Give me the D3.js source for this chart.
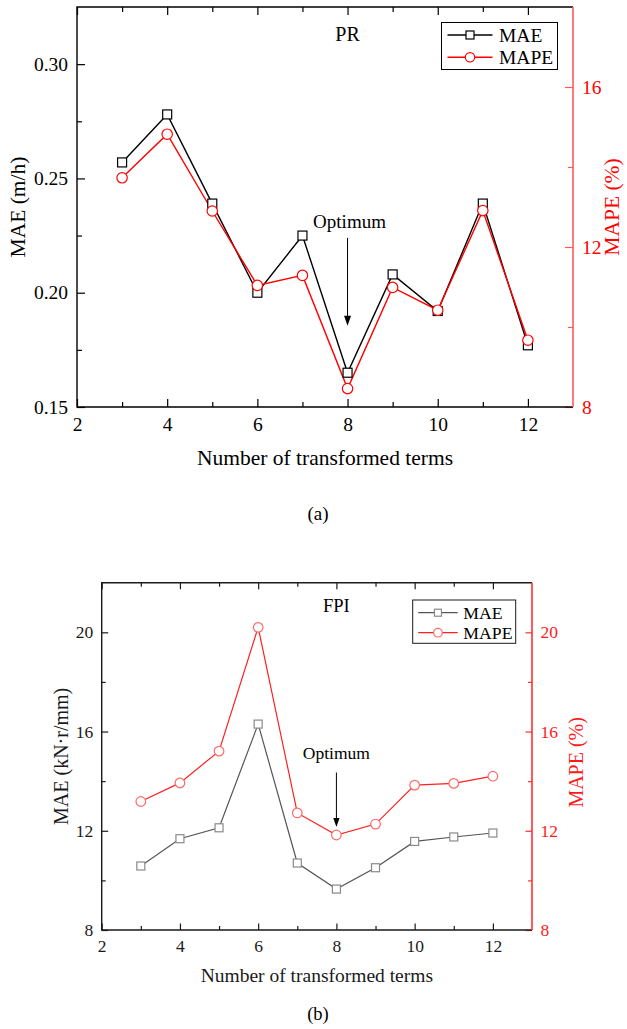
<!DOCTYPE html>
<html>
<head>
<meta charset="utf-8">
<script src="https://cdn.jsdelivr.net/npm/d3@7"></script>
<style>
html,body{margin:0;padding:0;background:#fff;}
svg{display:block;}
text{font-family:"Liberation Serif","Times New Roman",serif;}
</style>
</head>
<body>
<svg id="chart" width="627" height="1029"></svg>
<script>
// ---------- data ----------
const terms = [3, 4, 5, 6, 7, 8, 9, 10, 11, 12];
const prMAE = [0.257, 0.278, 0.239, 0.200, 0.225, 0.165, 0.208, 0.192, 0.239, 0.177];
const prMAPE = [13.73, 14.82, 12.90, 11.04, 11.29, 8.46, 10.99, 10.42, 12.91, 9.67];
const fpiMAE = [10.58, 11.68, 12.12, 16.30, 10.70, 9.65, 10.51, 11.57, 11.75, 11.91];
const fpiMAPE = [13.18, 13.93, 15.21, 20.20, 12.72, 11.83, 12.27, 13.84, 13.91, 14.20];

const xMajor = [2, 4, 6, 8, 10, 12];
const xMinor = [3, 5, 7, 9, 11];
const prLeftMajor = [0.15, 0.20, 0.25, 0.30];
const prLeftMinor = [0.175, 0.225, 0.275];
const prRightMajor = [8, 12, 16];
const prRightMinor = [10, 14];
const fpiLeftMajor = [8, 12, 16, 20];
const fpiLeftMinor = [10, 14, 18];
const fpiRightMajor = [8, 12, 16, 20];
const fpiRightMinor = [10, 14, 18];

const svg = d3.select("#chart");

function panel(cfg) {
  const g = svg.append("g");
  const x = d3.scaleLinear().domain([2, 13]).range([cfg.left, cfg.right]);
  const yL = d3.scaleLinear().domain(cfg.leftDomain).range([cfg.bottom, cfg.top]);
  const yR = d3.scaleLinear().domain(cfg.rightDomain).range([cfg.bottom, cfg.top]);

  // bottom axis (ticks inward)
  g.append("g").attr("transform", `translate(0,${cfg.bottom})`)
    .call(d3.axisBottom(x).tickValues(xMajor).tickSizeInner(-cfg.tick).tickSizeOuter(0).tickPadding(cfg.tick + cfg.xPad).tickFormat(d3.format("d")))
    .call(a => a.select(".domain").remove());
  g.append("g").attr("transform", `translate(0,${cfg.bottom})`)
    .call(d3.axisBottom(x).tickValues(xMinor).tickSize(-cfg.minor).tickFormat(""))
    .call(a => a.select(".domain").remove());
  // top axis
  g.append("g").attr("transform", `translate(0,${cfg.top})`)
    .call(d3.axisTop(x).tickValues(xMajor).tickSize(-cfg.tick).tickFormat(""))
    .call(a => a.select(".domain").remove());
  g.append("g").attr("transform", `translate(0,${cfg.top})`)
    .call(d3.axisTop(x).tickValues(xMinor).tickSize(-cfg.minor).tickFormat(""))
    .call(a => a.select(".domain").remove());
  // left axis
  g.append("g").attr("transform", `translate(${cfg.left},0)`)
    .call(d3.axisLeft(yL).tickValues(cfg.leftMajor).tickSize(-cfg.tick).tickPadding(cfg.tick + cfg.yPad).tickFormat(cfg.leftFmt))
    .call(a => a.select(".domain").remove());
  g.append("g").attr("transform", `translate(${cfg.left},0)`)
    .call(d3.axisLeft(yL).tickValues(cfg.leftMinor).tickSize(-cfg.minor).tickFormat(""))
    .call(a => a.select(".domain").remove());
  // right axis
  g.append("g").attr("class", "raxis").attr("transform", `translate(${cfg.right},0)`)
    .call(d3.axisRight(yR).tickValues(cfg.rightMajor).tickSize(-cfg.tick).tickPadding(cfg.tick + cfg.yPad).tickFormat(d3.format("d")))
    .call(a => a.select(".domain").remove());
  g.append("g").attr("class", "raxis").attr("transform", `translate(${cfg.right},0)`)
    .call(d3.axisRight(yR).tickValues(cfg.rightMinor).tickSize(-cfg.minor).tickFormat(""))
    .call(a => a.select(".domain").remove());

  g.selectAll(".tick line").attr("stroke", cfg.axisColor).attr("stroke-width", 1.2);
  g.selectAll(".tick text").attr("fill", cfg.axisColor).style("font-size", cfg.tickFont + "px").style("font-family", '"Liberation Serif",serif');
  g.selectAll(".raxis .tick line").attr("stroke", cfg.rightColor);
  g.selectAll(".raxis .tick text").attr("fill", cfg.rightTextColor);

  // frame
  g.append("path").attr("d", `M${cfg.right},${cfg.top}H${cfg.left}V${cfg.bottom}H${cfg.right}`)
    .attr("fill", "none").attr("stroke", cfg.axisColor).attr("stroke-width", 1.4);
  g.append("line").attr("x1", cfg.right).attr("x2", cfg.right).attr("y1", cfg.top).attr("y2", cfg.bottom)
    .attr("stroke", cfg.rightColor).attr("stroke-width", 1.6);

  // series
  const lineL = d3.line().x((d, i) => x(terms[i])).y(d => yL(d));
  const lineR = d3.line().x((d, i) => x(terms[i])).y(d => yR(d));
  g.append("path").datum(cfg.mae).attr("d", lineL).attr("fill", "none").attr("stroke", cfg.maeLine).attr("stroke-width", cfg.lw);
  g.append("path").datum(cfg.mape).attr("d", lineR).attr("fill", "none").attr("stroke", cfg.mapeLine).attr("stroke-width", cfg.lw);
  const s = cfg.sq;
  g.selectAll(".sq").data(cfg.mae).enter().append("rect")
    .attr("x", (d, i) => x(terms[i]) - s / 2).attr("y", d => yL(d) - s / 2)
    .attr("width", s).attr("height", s).attr("fill", "#fff").attr("stroke", cfg.maeMark).attr("stroke-width", 1.2);
  g.selectAll(".ci").data(cfg.mape).enter().append("circle")
    .attr("cx", (d, i) => x(terms[i])).attr("cy", d => yR(d)).attr("r", cfg.r)
    .attr("fill", "#fff").attr("stroke", cfg.mapeMark).attr("stroke-width", 1.2);

  // annotation
  const ax = x(cfg.opt.x), ay1 = yL(cfg.opt.y1), ay2 = yL(cfg.opt.y2);
  g.append("line").attr("x1", ax).attr("x2", ax).attr("y1", ay1).attr("y2", ay2 - cfg.head)
    .attr("stroke", "#000").attr("stroke-width", 1);
  g.append("path").attr("d", `M${ax},${ay2}L${ax - cfg.head * 0.35},${ay2 - cfg.head}L${ax + cfg.head * 0.35},${ay2 - cfg.head}Z`).attr("fill", "#000");
  g.append("text").attr("x", ax + cfg.opt.dx).attr("y", ay1 - cfg.opt.dy).attr("text-anchor", "middle")
    .style("font-size", cfg.optFont + "px").text("Optimum");

  // panel label
  g.append("text").attr("x", x(8)).attr("y", cfg.top + cfg.labDy).attr("text-anchor", "middle")
    .style("font-size", cfg.labFont + "px").text(cfg.label);

  // legend
  const L = cfg.legend;
  g.append("rect").attr("x", L.x).attr("y", L.y).attr("width", L.w).attr("height", L.h)
    .attr("fill", "#fff").attr("stroke", cfg.axisColor).attr("stroke-width", 1);
  const items = [
    {name: "MAE", line: cfg.maeLine, mark: cfg.maeMark, type: "sq"},
    {name: "MAPE", line: cfg.mapeLine, mark: cfg.mapeMark, type: "ci"}
  ];
  items.forEach((it, i) => {
    const yy = L.y + L.first + i * L.step;
    g.append("line").attr("x1", L.x + L.l1).attr("x2", L.x + L.l2).attr("y1", yy).attr("y2", yy)
      .attr("stroke", it.line).attr("stroke-width", cfg.lw);
    const cx = L.x + (L.l1 + L.l2) / 2;
    if (it.type === "sq") {
      g.append("rect").attr("x", cx - s / 2 + 0.5).attr("y", yy - s / 2 + 0.5).attr("width", s - 1).attr("height", s - 1)
        .attr("fill", "#fff").attr("stroke", it.mark).attr("stroke-width", 1.2);
    } else {
      g.append("circle").attr("cx", cx).attr("cy", yy).attr("r", cfg.r - 0.5)
        .attr("fill", "#fff").attr("stroke", it.mark).attr("stroke-width", 1.2);
    }
    g.append("text").attr("x", L.x + L.tx).attr("y", yy + L.font * 0.34)
      .style("font-size", L.font + "px").text(it.name);
  });

  // axis titles
  const cy = (cfg.top + cfg.bottom) / 2;
  g.append("text").attr("transform", `translate(${cfg.ltX},${cy}) rotate(-90)`).attr("text-anchor", "middle")
    .style("font-size", cfg.titleFont + "px").attr("fill", cfg.axisColor).text(cfg.leftTitle);
  g.append("text").attr("transform", `translate(${cfg.rtX},${cy + cfg.rtDy}) rotate(-90)`).attr("text-anchor", "middle")
    .style("font-size", cfg.titleFont + "px").attr("fill", cfg.rightTextColor).text("MAPE (%)");
  g.append("text").attr("x", (cfg.left + cfg.right) / 2).attr("y", cfg.xtY).attr("text-anchor", "middle")
    .style("font-size", cfg.xtFont + "px").attr("fill", cfg.axisColor).text("Number of transformed terms");
  g.append("text").attr("x", cfg.capX).attr("y", cfg.capY).attr("text-anchor", "middle")
    .style("font-size", cfg.capFont + "px").text(cfg.caption);
}

panel({
  left: 77, right: 573, top: 7, bottom: 407,
  leftDomain: [0.15, 0.325], rightDomain: [8, 18],
  leftMajor: prLeftMajor, leftMinor: prLeftMinor, rightMajor: prRightMajor, rightMinor: prRightMinor,
  leftFmt: d3.format(".2f"),
  tick: 8, minor: 5, xPad: 2, yPad: 1, tickFont: 19.5,
  axisColor: "#000", rightColor: "#ff5a5a", rightTextColor: "#f00",
  mae: prMAE, mape: prMAPE,
  maeLine: "#000", maeMark: "#000", mapeLine: "#f00", mapeMark: "#f00",
  lw: 1.4, sq: 9, r: 5.2,
  opt: {x: 8, y1: 0.224, y2: 0.1855, dx: 2, dy: 10}, head: 10, optFont: 19,
  label: "PR", labDy: 34, labFont: 20,
  legend: {x: 441.5, y: 22.5, w: 116, h: 47, first: 12.5, step: 22.3, l1: 6, l2: 51, tx: 57.5, font: 19.5},
  leftTitle: "MAE (m/h)", ltX: 25, rtX: 619, rtDy: 0, titleFont: 21.5,
  xtY: 465, xtFont: 21.5,
  caption: "(a)", capX: 318, capY: 520, capFont: 19
});

panel({
  left: 101.7, right: 532, top: 582.7, bottom: 930,
  leftDomain: [8, 22], rightDomain: [8, 22],
  leftMajor: fpiLeftMajor, leftMinor: fpiLeftMinor, rightMajor: fpiRightMajor, rightMinor: fpiRightMinor,
  leftFmt: d3.format("d"),
  tick: 6.5, minor: 4, xPad: 3, yPad: 2, tickFont: 17.5,
  axisColor: "#1a1a1a", rightColor: "#ff3030", rightTextColor: "#ff1a1a",
  mae: fpiMAE, mape: fpiMAPE,
  maeLine: "#555", maeMark: "#8a8a8a", mapeLine: "#ff2020", mapeMark: "#ff6a6a",
  lw: 1.2, sq: 8, r: 4.8,
  opt: {x: 8, y1: 14.35, y2: 12.15, dx: 0, dy: 13}, head: 9, optFont: 17.5,
  label: "FPI", labDy: 29, labFont: 18.5,
  legend: {x: 412.7, y: 600, w: 103, h: 43.3, first: 12.7, step: 20, l1: 5.5, l2: 45, tx: 50.6, font: 17.7},
  leftTitle: "MAE (kN·r/mm)", ltX: 68, rtX: 583, rtDy: 6, titleFont: 20,
  xtY: 981.5, xtFont: 19.5,
  caption: "(b)", capX: 318, capY: 1020, capFont: 18.5
});
</script>
</body>
</html>
